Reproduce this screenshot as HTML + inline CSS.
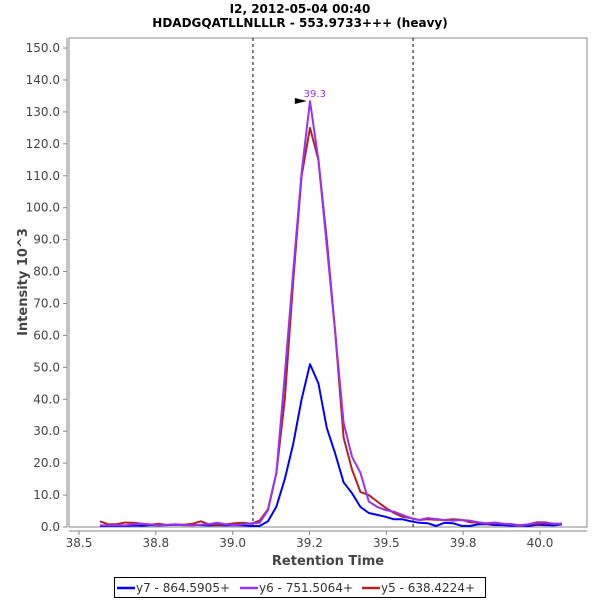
<!DOCTYPE html>
<html><head><meta charset="utf-8"><style>
body{margin:0;background:#fff;width:600px;height:600px;overflow:hidden}
svg text{font-family:"DejaVu Sans","Liberation Sans",sans-serif}
</style></head><body>
<svg id="chart" width="600" height="600" xmlns="http://www.w3.org/2000/svg">
<rect width="600" height="600" fill="#fff"/>
<text x="300" y="13" text-anchor="middle" font-size="12" font-weight="bold" fill="#000">I2, 2012-05-04 00:40</text>
<text x="300" y="27" text-anchor="middle" font-size="12" font-weight="bold" fill="#000">HDADGQATLLNLLLR - 553.9733+++ (heavy)</text>
<rect x="69" y="38" width="518" height="489" fill="#fff" stroke="#888" stroke-width="1"/>
<g id="grid"></g>
<g id="series"></g>
<g id="axes"></g>
<text transform="translate(27,282) rotate(-90)" text-anchor="middle" font-size="13" font-weight="bold" fill="#444">Intensity 10^3</text>
<text x="328" y="565" text-anchor="middle" font-size="13" font-weight="bold" fill="#444">Retention Time</text>
<g>
<rect x="114.5" y="577.5" width="371" height="20" fill="#fff" stroke="#000"/>
<line x1="117" y1="588" x2="135" y2="588" stroke="#0000ff" stroke-width="2.5"/>
<text x="136" y="592" font-size="12" fill="#333">y7 - 864.5905+</text>
<line x1="240" y1="588" x2="258" y2="588" stroke="#9933ee" stroke-width="2.5"/>
<text x="259" y="592" font-size="12" fill="#333">y6 - 751.5064+</text>
<line x1="362" y1="588" x2="380" y2="588" stroke="#b22222" stroke-width="2.5"/>
<text x="381" y="592" font-size="12" fill="#333">y5 - 638.4224+</text>
</g>
</svg>
<script>
const times=[];for(let i=0;i<56;i++)times.push(38.5683+i*0.02733);
const y7=[0.3,0.3,0.4,0.3,0.5,0.4,0.6,0.5,0.6,0.7,0.6,0.7,0.6,0.5,0.6,0.5,0.6,0.5,0.3,0.3,1.8,6.4,15,26,40,51,45,31,23,14,10.6,6.3,4.4,3.8,3.2,2.4,2.4,1.8,1.3,1.2,0.3,1.3,1.2,0.4,0.3,0.8,0.9,0.6,0.6,0.4,0.5,0.3,0.7,0.6,0.5,0.8];
const y6=[0.5,0.5,0.6,0.5,0.9,1.0,0.8,0.5,0.7,0.8,0.6,0.5,0.7,0.9,1.3,0.8,0.6,0.8,1.2,1.3,5.3,17,47.6,80,111,133.4,115,88,61,32.6,22,17,8,6.3,5.3,4.8,3.8,2.8,2.2,2.8,2.5,2.2,2.0,2.2,2.0,1.5,1.2,1.4,1.0,0.8,0.6,0.8,1.5,1.5,1.0,1.0];
const y5=[1.8,0.8,0.9,1.4,1.3,1.0,0.7,1.0,0.6,0.8,0.7,1.0,1.8,0.8,0.7,0.8,1.2,1.3,1.0,2.0,5.5,17,40,77,110,125,115,90,61,28,18,11,10,8,6,4.4,3.2,2.8,2.2,2.4,2.3,2.2,2.4,2.3,1.5,1.4,1.0,1.2,1.0,0.9,0.5,0.8,1.0,1.2,1.0,1.0];
const yTicks=[0,10,20,30,40,50,60,70,80,90,100,110,120,130,140,150];
const xTicks=[38.5,38.75,39.0,39.25,39.5,39.75,40.0];
const xTickLabels=["38.5","38.8","39.0","39.2","39.5","39.8","40.0"];
const boundaries=[39.066,39.587];
const peakLabel={t:39.251,v:133.4,text:"39.3"};
const NS="http://www.w3.org/2000/svg";
const X=t=>79+(t-38.5)*307.33;
const Y=v=>527-v*3.193;
function mk(tag,attrs,parent){const e=document.createElementNS(NS,tag);for(const k in attrs)e.setAttribute(k,attrs[k]);parent.appendChild(e);return e;}
const axes=document.getElementById('axes'),grid=document.getElementById('grid'),series=document.getElementById('series');
let l=mk('line',{x1:67,y1:38,x2:67,y2:527,stroke:'#888'},axes);


l=mk('line',{x1:69,y1:531,x2:587,y2:531,stroke:'#888'},axes);


yTicks.forEach(v=>{const y=Y(v);mk('line',{x1:63,y1:y,x2:67,y2:y,stroke:'#888'},axes);
const t=mk('text',{x:60,y:y+4,'text-anchor':'end','font-size':12,fill:'#444'},axes);t.textContent=v.toFixed(1);

});
xTicks.forEach((v,i)=>{const x=X(v);mk('line',{x1:x,y1:531,x2:x,y2:535,stroke:'#888'},axes);
const t=mk('text',{x:x,y:547,'text-anchor':'middle','font-size':12,fill:'#444'},axes);t.textContent=xTickLabels[i];

});
boundaries.forEach(b=>{const d=mk('line',{x1:X(b),y1:38,x2:X(b),y2:527,stroke:'#000','stroke-dasharray':'3,3'},grid);

});
function line(vals,color,name){const pts=vals.map((v,i)=>X(times[i]).toFixed(1)+','+Y(v).toFixed(1)).join(' ');
const p=mk('polyline',{points:pts,fill:'none',stroke:color,'stroke-width':2,'stroke-linejoin':'round'},series);

}
line(y7,'#0000ff','series-y7');
line(y5,'#b22222','series-y5');
line(y6,'#9933ee','series-y6');
const px=X(peakLabel.t),py=Y(peakLabel.v);
const a=mk('polygon',{points:`${px-3},${py} ${px-15},${py-3} ${px-15},${py+3}`,fill:'#000'},series);


const pl=mk('text',{x:px+5,y:py-4,'text-anchor':'middle','font-size':10,fill:'#9933ee'},series);pl.textContent=peakLabel.text;


</script>
</body></html>
